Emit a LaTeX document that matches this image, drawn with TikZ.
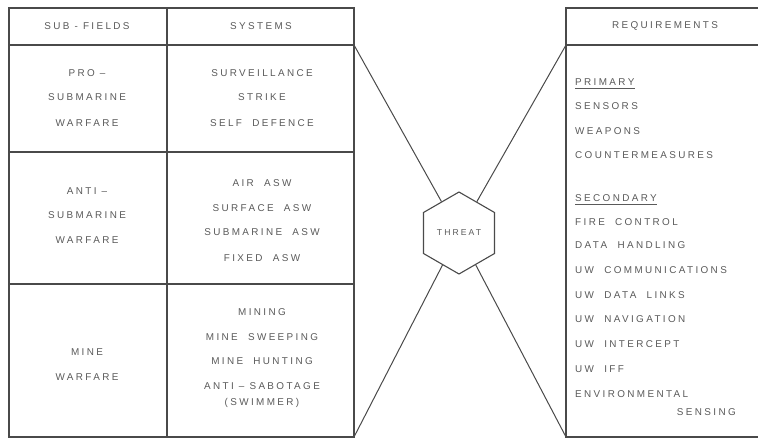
\documentclass[tikz,border=0pt]{standalone}
\usepackage{fontspec}
\setmainfont{Liberation Sans}
\newfontfamily\lblfont[LetterSpace=24]{Liberation Sans}
\usetikzlibrary{shapes.geometric}
\definecolor{linegray}{HTML}{4A4A4A}
\definecolor{textgray}{HTML}{5A5A5A}
\begin{document}
\begin{tikzpicture}[x=1pt,y=-1pt,
  frame/.style={draw=linegray,line width=1.1pt},
  txt/.style={font=\lblfont\fontsize{9.9}{11}\selectfont,text=textgray,inner sep=0pt},
  req/.style={txt,anchor=west},
  hexa/.style={draw=linegray,line width=1.1pt,regular polygon,regular polygon sides=6,
    shape border rotate=30,minimum size=82pt,inner sep=0pt,
    font=\lblfont\fontsize{8.6}{10}\selectfont,text=textgray},
  link/.style={draw=linegray,line width=1pt},
  uline/.style={draw=textgray,line width=0.6pt}]
\useasboundingbox (0,0) rectangle (758,439);
% left table
\coordinate (LT) at (9,8);
\coordinate (LB) at (9,437);
\coordinate (RT) at (354,8);
\coordinate (RB) at (354,437);
\coordinate (MT) at (167,8);
\coordinate (MB) at (167,437);
\coordinate (LH) at (9,45);
\coordinate (RH) at (354,45);
\coordinate (L1) at (9,152);
\coordinate (R1) at (354,152);
\coordinate (L2) at (9,284);
\coordinate (R2) at (354,284);
\draw[frame] (LT) -- (RT) -- (RB) -- (LB) -- cycle;
\draw[frame] (MT) -- (MB);
\draw[frame] (LH) -- (RH);
\draw[frame] (L1) -- (R1);
\draw[frame] (L2) -- (R2);
% right table
\coordinate (QT) at (566,8);
\coordinate (QB) at (566,437);
\coordinate (QH) at (566,45);
\coordinate (ET) at (758,8);
\coordinate (EH) at (758,45);
\coordinate (EB) at (758,437);
\draw[frame] (ET) -- (QT) -- (QB) -- (EB);
\draw[frame] (QH) -- (EH);
% threat
\node[hexa] (hex) at (459,233) {THREAT};
\draw[link] (RH) -- (hex);
\draw[link] (RB) -- (hex);
\draw[link] (QH) -- (hex);
\draw[link] (QB) -- (hex);
% headers
\node[txt] (h1) at (87,26) {SUB - FIELDS};
\node[txt] (h2) at (261,26) {SYSTEMS};
\node[txt] (h3) at (665,26) {REQUIREMENTS};
% row 1
\node[txt] (a1) at (87,73) {PRO –};
\node[txt] (a2) at (87,97) {SUBMARINE};
\node[txt] (a3) at (87,123) {WARFARE};
\node[txt] (s1) at (262,73) {SURVEILLANCE};
\node[txt] (s2) at (262,97) {STRIKE};
\node[txt] (s3) at (262,123) {SELF\ \ DEFENCE};
% row 2
\node[txt] (b1) at (87,191) {ANTI –};
\node[txt] (b2) at (87,215) {SUBMARINE};
\node[txt] (b3) at (87,240) {WARFARE};
\node[txt] (t1) at (262,183) {AIR\ \ ASW};
\node[txt] (t2) at (262,208) {SURFACE\ \ ASW};
\node[txt] (t3) at (262,232) {SUBMARINE\ \ ASW};
\node[txt] (t4) at (262,258) {FIXED\ \ ASW};
% row 3
\node[txt] (c1) at (87,352) {MINE};
\node[txt] (c2) at (87,377) {WARFARE};
\node[txt] (u1) at (262,312) {MINING};
\node[txt] (u2) at (262,337) {MINE\ \ SWEEPING};
\node[txt] (u3) at (262,361) {MINE\ \ HUNTING};
\node[txt] (u4) at (262,386) {ANTI – SABOTAGE};
\node[txt] (u5) at (262,403) {(SWIMMER)};
% requirements
\node[req] (r1) at (575,82) {PRIMARY};
\draw[uline] ([yshift=-2.5pt]r1.south west) -- ([yshift=-2.5pt]r1.south east);
\node[req] (r2) at (575,106) {SENSORS};
\node[req] (r3) at (575,131) {WEAPONS};
\node[req] (r4) at (575,155) {COUNTERMEASURES};
\node[req] (r5) at (575,198) {SECONDARY};
\draw[uline] ([yshift=-2.5pt]r5.south west) -- ([yshift=-2.5pt]r5.south east);
\node[req] (r6) at (575,222) {FIRE\ \ CONTROL};
\node[req] (r7) at (575,245) {DATA\ \ HANDLING};
\node[req] (r8) at (575,270) {UW\ \ COMMUNICATIONS};
\node[req] (r9) at (575,295) {UW\ \ DATA\ \ LINKS};
\node[req] (r10) at (575,319) {UW\ \ NAVIGATION};
\node[req] (r11) at (575,344) {UW\ \ INTERCEPT};
\node[req] (r12) at (575,369) {UW\ \ IFF};
\node[req] (r13) at (575,394) {ENVIRONMENTAL};
\node[txt,anchor=east] (r14) at (736,412) {SENSING};
\end{tikzpicture}
\end{document}
